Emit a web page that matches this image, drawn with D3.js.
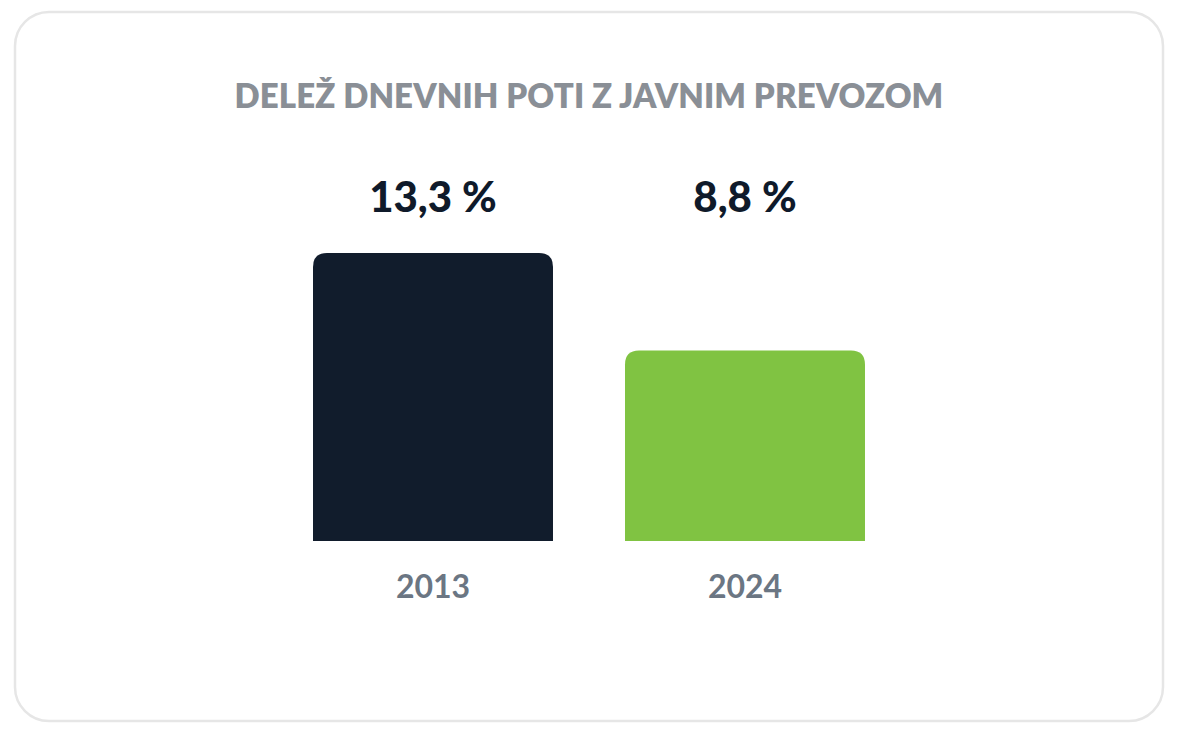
<!DOCTYPE html>
<html><head><meta charset="utf-8">
<script src="https://cdn.jsdelivr.net/npm/d3@7"></script>
<style>
html,body{margin:0;padding:0;background:#fff;}
svg{display:block;}
</style></head>
<body>
<svg id="chart" width="1184" height="734"></svg>
<script>
const title = "DELEŽ DNEVNIH POTI Z JAVNIM PREVOZOM";
const years = ["2013", "2024"];
const shares = [13.3, 8.8];
const valueLabels = ["13,3 %", "8,8 %"];
const colors = ["#111c2c", "#80c342"];

const svg = d3.select("#chart");
const FONT = "Lato, 'Open Sans', sans-serif";

svg.append("rect").attr("x", 15).attr("y", 12).attr("width", 1148).attr("height", 709)
  .attr("rx", 34).attr("fill", "#fff").attr("stroke", "#e6e6e6").attr("stroke-width", 2.5);

svg.append("text").attr("x", 589).attr("y", 108).attr("text-anchor", "middle")
  .attr("font-family", FONT).attr("font-weight", 800).attr("font-size", 33)
  .attr("letter-spacing", 0.1).attr("fill", "#8a8f96").text(title);

const x = d3.scaleBand().domain(years).range([277, 901]).paddingInner(0.2308).paddingOuter(0.1154);
const baseY = 541;
const y = d3.scaleLinear().domain([0, 13.3]).range([baseY, 253]);
const r = 14;

const data = years.map((yr, i) => ({yr, v: shares[i], label: valueLabels[i], c: colors[i]}));

function barPath(d) {
  const x0 = x(d.yr), w = x.bandwidth(), y0 = y(d.v);
  return `M${x0},${baseY} V${y0 + r} Q${x0},${y0} ${x0 + r},${y0} H${x0 + w - r} Q${x0 + w},${y0} ${x0 + w},${y0 + r} V${baseY} Z`;
}

svg.selectAll("path.bar").data(data).join("path").attr("class", "bar")
  .attr("d", barPath).attr("fill", d => d.c);

svg.selectAll("text.val").data(data).join("text").attr("class", "val")
  .attr("x", d => x(d.yr) + x.bandwidth() / 2).attr("y", 212)
  .attr("text-anchor", "middle").attr("font-family", FONT).attr("font-weight", 900)
  .attr("font-size", 42).attr("fill", "#0f1a2a").text(d => d.label);

svg.selectAll("text.yr").data(data).join("text").attr("class", "yr")
  .attr("x", d => x(d.yr) + x.bandwidth() / 2).attr("y", 598)
  .attr("text-anchor", "middle").attr("font-family", FONT).attr("font-weight", 700)
  .attr("font-size", 32).attr("fill", "#6b7683").text(d => d.yr);
</script>
</body></html>
